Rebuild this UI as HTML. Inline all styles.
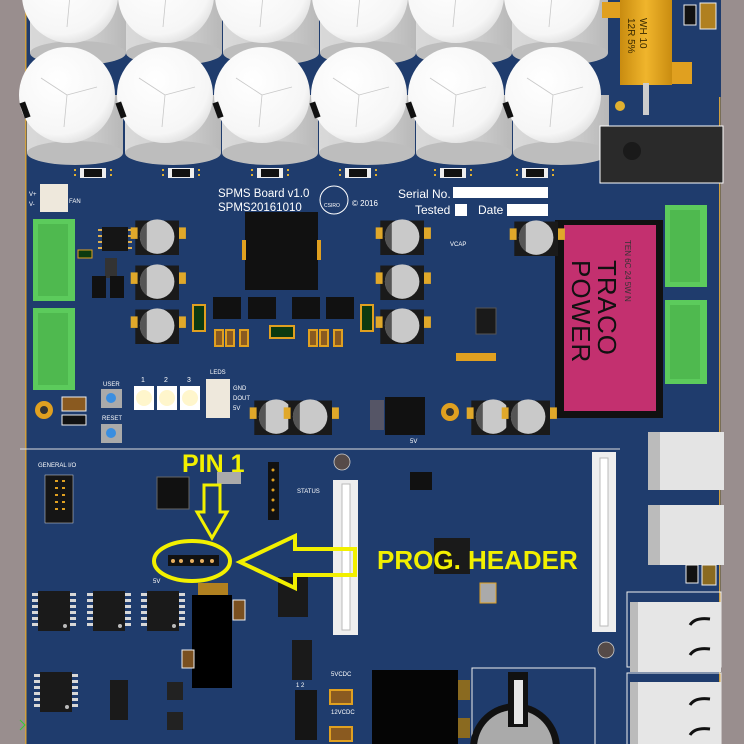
<!DOCTYPE html>
<html><head><meta charset="utf-8"><style>
html,body{margin:0;padding:0;background:#1f3c6d;width:744px;height:744px;overflow:hidden;}
svg{display:block}
text{font-family:"Liberation Sans",sans-serif;}
</style></head><body>
<svg width="744" height="744" viewBox="0 0 744 744" xmlns="http://www.w3.org/2000/svg">
<defs>
<radialGradient id="capTop" cx="0.4" cy="0.35" r="0.7"><stop offset="0" stop-color="#ffffff"/><stop offset="0.8" stop-color="#f6f6f6"/><stop offset="1" stop-color="#dedede"/></radialGradient>
<linearGradient id="capBody" x1="0" x2="1"><stop offset="0" stop-color="#d9d9d9"/><stop offset="0.6" stop-color="#cfcfcf"/><stop offset="1" stop-color="#b8b8b8"/></linearGradient>
<linearGradient id="gold" x1="0" x2="1"><stop offset="0" stop-color="#c98c10"/><stop offset="0.5" stop-color="#f0b52c"/><stop offset="1" stop-color="#c98c10"/></linearGradient>
<g id="cap">
 <rect x="-40" y="0" width="96" height="58" fill="url(#capBody)"/>
 <ellipse cx="8" cy="58" rx="48" ry="12" fill="#bdbdbd"/>
 <circle cx="0" cy="0" r="48" fill="url(#capTop)"/>
 <path d="M0 0 L-26 -17 M0 0 L30 -8 M0 0 L-3 32" stroke="#c8c8c8" stroke-width="0.8" fill="none"/>
</g>
<g id="ecap0">
 <rect x="-18" y="-10" width="38" height="30" fill="#1a1a1a"/>
 <rect x="-22" y="-4" width="6" height="10" fill="#e0a82a"/><rect x="20" y="-4" width="6" height="10" fill="#e0a82a"/>
 <circle cx="1" cy="4" r="15" fill="#c9c9c9"/><path d="M-14 4 a15 15 0 0 1 6 -12 l0 24 a15 15 0 0 1 -6 -12z" fill="#555"/>
</g>
<g id="ecap"><use href="#ecap0" transform="scale(1.15)"/></g>
<g id="so8"><rect x="0" y="0" width="26" height="24" fill="#151515"/>
 <g fill="#e0b050"><rect x="-4" y="2" width="4" height="2"/><rect x="-4" y="8" width="4" height="2"/><rect x="-4" y="14" width="4" height="2"/><rect x="-4" y="20" width="4" height="2"/>
 <rect x="26" y="2" width="4" height="2"/><rect x="26" y="8" width="4" height="2"/><rect x="26" y="14" width="4" height="2"/><rect x="26" y="20" width="4" height="2"/></g></g>
<g id="soic"><rect x="0" y="0" width="32" height="40" fill="#1a1a1a"/>
 <g fill="#d8d8d8"><rect x="-6" y="2" width="6" height="3"/><rect x="-6" y="8" width="6" height="3"/><rect x="-6" y="14" width="6" height="3"/><rect x="-6" y="20" width="6" height="3"/><rect x="-6" y="26" width="6" height="3"/><rect x="-6" y="32" width="6" height="3"/>
 <rect x="32" y="2" width="6" height="3"/><rect x="32" y="8" width="6" height="3"/><rect x="32" y="14" width="6" height="3"/><rect x="32" y="20" width="6" height="3"/><rect x="32" y="26" width="6" height="3"/><rect x="32" y="32" width="6" height="3"/></g>
 <circle cx="27" cy="35" r="2" fill="#bbb"/></g>
<g id="res"><rect x="0" y="0" width="26" height="10" fill="#eee"/><rect x="4" y="1" width="18" height="8" fill="#111"/><rect x="-6" y="1" width="2" height="2" fill="#e0b030"/><rect x="-6" y="6" width="2" height="2" fill="#e0b030"/><rect x="30" y="1" width="2" height="2" fill="#e0b030"/><rect x="30" y="6" width="2" height="2" fill="#e0b030"/></g>
</defs>

<rect x="0" y="0" width="744" height="744" fill="#1f3c6d"/>
<rect x="0" y="0" width="25" height="744" fill="#998e8e"/>
<rect x="25" y="0" width="1.5" height="744" fill="#d0a040"/>
<rect x="721" y="0" width="23" height="744" fill="#998e8e"/>
<rect x="719" y="97" width="1.5" height="647" fill="#d0a040"/>

<use href="#cap" x="70" y="-5"/><use href="#cap" x="166" y="-5"/><use href="#cap" x="263" y="-5"/><use href="#cap" x="360" y="-5"/><use href="#cap" x="456" y="-5"/><use href="#cap" x="552" y="-5"/>
<use href="#cap" x="67" y="95"/><use href="#cap" x="165" y="95"/><use href="#cap" x="262" y="95"/><use href="#cap" x="359" y="95"/><use href="#cap" x="456" y="95"/><use href="#cap" x="553" y="95"/>
<g fill="#111"><rect x="22" y="102" width="6" height="16" transform="rotate(-20 25 110)"/><rect x="118" y="102" width="6" height="16" transform="rotate(-20 121 110)"/><rect x="215" y="102" width="6" height="16" transform="rotate(-20 218 110)"/><rect x="312" y="102" width="6" height="16" transform="rotate(-20 315 110)"/><rect x="408" y="102" width="6" height="16" transform="rotate(-20 411 110)"/><rect x="505" y="102" width="6" height="16" transform="rotate(-20 508 110)"/></g>
<use href="#res" x="80" y="168"/><use href="#res" x="168" y="168"/><use href="#res" x="257" y="168"/><use href="#res" x="345" y="168"/><use href="#res" x="440" y="168"/><use href="#res" x="522" y="168"/>

<rect x="602" y="2" width="20" height="16" fill="#e0a020"/><rect x="672" y="62" width="20" height="22" fill="#e0a020"/>
<rect x="620" y="0" width="52" height="85" fill="url(#gold)"/>
<text transform="translate(640,18) rotate(90)" font-size="10" fill="#3a2a00">WH 10</text>
<text transform="translate(628,18) rotate(90)" font-size="10" fill="#3a2a00">12R 5%</text>
<rect x="643" y="83" width="6" height="32" fill="#ccc"/>
<circle cx="620" cy="106" r="5" fill="#e0b030"/>
<rect x="684" y="5" width="12" height="20" fill="#111" stroke="#eee"/><rect x="700" y="3" width="16" height="26" fill="#b08020" stroke="#eee"/>
<rect x="600" y="126" width="123" height="57" fill="#2a2a2a" stroke="#fff" stroke-width="1"/>
<circle cx="632" cy="151" r="9" fill="#1a1a1a"/>

<text x="218" y="197" font-size="11.5" fill="#fff">SPMS Board v1.0</text>
<text x="218" y="211" font-size="11.5" fill="#fff">SPMS20161010</text>
<circle cx="334" cy="200" r="14" fill="none" stroke="#fff" stroke-width="1"/>
<text x="324" y="207" font-size="5" fill="#fff">CSIRO</text>
<text x="352" y="206" font-size="8" fill="#fff">© 2016</text>
<text x="398" y="198" font-size="12" fill="#fff">Serial No.</text>
<rect x="453" y="187" width="95" height="11" fill="#fff"/>
<text x="415" y="214" font-size="12" fill="#fff">Tested</text>
<rect x="455" y="204" width="12" height="12" fill="#fff"/>
<text x="478" y="214" font-size="12" fill="#fff">Date</text>
<rect x="507" y="204" width="41" height="12" fill="#fff"/>

<rect x="40" y="184" width="28" height="28" fill="#eee8dc"/>
<text x="29" y="196" font-size="6" fill="#fff">V+</text><text x="29" y="206" font-size="6" fill="#fff">V-</text><text x="69" y="203" font-size="6" fill="#fff">FAN</text>
<rect x="33" y="219" width="42" height="82" fill="#5ccb5c"/><rect x="38" y="224" width="30" height="72" fill="#4fb94f"/>
<rect x="33" y="308" width="42" height="82" fill="#5ccb5c"/><rect x="38" y="313" width="30" height="72" fill="#4fb94f"/>
<rect x="78" y="250" width="14" height="8" fill="#0c3a10" stroke="#e0a020"/>
<rect x="665" y="205" width="42" height="82" fill="#5ccb5c"/><rect x="670" y="210" width="30" height="72" fill="#4fb94f"/>
<rect x="665" y="300" width="42" height="84" fill="#5ccb5c"/><rect x="670" y="305" width="30" height="74" fill="#4fb94f"/>

<rect x="555" y="220" width="108" height="198" fill="#111"/>
<rect x="564" y="225" width="92" height="186" fill="#c3306f"/>
<text transform="translate(598,260) rotate(90)" font-size="26" fill="#111" letter-spacing="1">TRACO</text>
<text transform="translate(572,260) rotate(90)" font-size="26" fill="#111" letter-spacing="1">POWER</text>
<text transform="translate(625,240) rotate(90)" font-size="8" fill="#333">TEN 6C 24 5W N</text>

<use href="#so8" x="102" y="227"/>
<rect x="105" y="258" width="12" height="20" fill="#333"/>
<rect x="92" y="276" width="14" height="22" fill="#111"/><rect x="110" y="276" width="14" height="22" fill="#111"/>
<use href="#ecap" x="156" y="232"/><use href="#ecap" x="156" y="277"/><use href="#ecap" x="156" y="321"/>
<use href="#ecap" x="401" y="232"/><use href="#ecap" x="401" y="277"/><use href="#ecap" x="401" y="321"/>
<use href="#ecap" x="535" y="233"/>
<text x="450" y="246" font-size="6" fill="#fff">VCAP</text>
<rect x="245" y="212" width="73" height="78" fill="#111"/>
<rect x="242" y="240" width="4" height="20" fill="#e0a020"/><rect x="317" y="240" width="4" height="20" fill="#e0a020"/>
<rect x="213" y="297" width="28" height="22" fill="#111"/><rect x="248" y="297" width="28" height="22" fill="#111"/><rect x="292" y="297" width="28" height="22" fill="#111"/><rect x="326" y="297" width="28" height="22" fill="#111"/>
<rect x="193" y="305" width="12" height="26" fill="#0c3a10" stroke="#e0a020" stroke-width="2"/><rect x="361" y="305" width="12" height="26" fill="#0c3a10" stroke="#e0a020" stroke-width="2"/>
<rect x="270" y="326" width="24" height="12" fill="#0c3a10" stroke="#e0a020" stroke-width="2"/>
<g fill="#8a5a20" stroke="#e0a020" stroke-width="2"><rect x="215" y="330" width="8" height="16"/><rect x="226" y="330" width="8" height="16"/><rect x="240" y="330" width="8" height="16"/><rect x="309" y="330" width="8" height="16"/><rect x="320" y="330" width="8" height="16"/><rect x="334" y="330" width="8" height="16"/></g>
<rect x="476" y="308" width="20" height="26" fill="#1a1a1a" stroke="#555"/>
<rect x="456" y="353" width="40" height="8" fill="#e0a020"/>
<circle cx="44" cy="410" r="9" fill="#e0a020"/><circle cx="44" cy="410" r="4" fill="#333"/>
<circle cx="450" cy="412" r="9" fill="#e0a020"/><circle cx="450" cy="412" r="4" fill="#333"/>
<rect x="62" y="397" width="24" height="14" fill="#8a5a20" stroke="#eee"/><rect x="62" y="415" width="24" height="10" fill="#111" stroke="#eee"/>
<text x="103" y="386" font-size="6" fill="#fff">USER</text>
<rect x="101" y="389" width="21" height="19" fill="#aaa"/><circle cx="111" cy="398" r="5" fill="#3a8ee0"/>
<text x="102" y="420" font-size="6" fill="#fff">RESET</text>
<rect x="101" y="424" width="21" height="19" fill="#aaa"/><circle cx="111" cy="433" r="5" fill="#3a8ee0"/>
<text x="141" y="382" font-size="7" fill="#fff">1</text><text x="164" y="382" font-size="7" fill="#fff">2</text><text x="187" y="382" font-size="7" fill="#fff">3</text>
<rect x="134" y="386" width="20" height="24" fill="#fff"/><circle cx="144" cy="398" r="8" fill="#fff6cc"/>
<rect x="157" y="386" width="20" height="24" fill="#fff"/><circle cx="167" cy="398" r="8" fill="#fff6cc"/>
<rect x="180" y="386" width="20" height="24" fill="#fff"/><circle cx="190" cy="398" r="8" fill="#fff6cc"/>
<text x="210" y="374" font-size="6" fill="#fff">LEDS</text>
<rect x="206" y="379" width="24" height="39" fill="#eee8dc"/>
<text x="233" y="390" font-size="6" fill="#fff">GND</text><text x="233" y="400" font-size="6" fill="#fff">DOUT</text><text x="233" y="410" font-size="6" fill="#fff">5V</text>
<use href="#ecap" x="275" y="412"/><use href="#ecap" x="309" y="412"/><use href="#ecap" x="492" y="412"/><use href="#ecap" x="527" y="412"/>
<rect x="385" y="397" width="40" height="38" fill="#111"/><rect x="370" y="400" width="14" height="30" fill="#556"/>
<text x="410" y="443" font-size="6" fill="#fff">5V</text>

<line x1="20" y1="449" x2="620" y2="449" stroke="#ddd" stroke-width="1"/>
<text x="38" y="467" font-size="6" fill="#fff">GENERAL I/O</text>
<rect x="45" y="475" width="28" height="48" fill="#151515" stroke="#ddd" stroke-width="0.5"/>
<g fill="#e0a020"><rect x="55" y="480" width="3" height="2"/><rect x="62" y="480" width="3" height="2"/><rect x="55" y="487" width="3" height="2"/><rect x="62" y="487" width="3" height="2"/><rect x="55" y="494" width="3" height="2"/><rect x="62" y="494" width="3" height="2"/><rect x="55" y="501" width="3" height="2"/><rect x="62" y="501" width="3" height="2"/><rect x="55" y="508" width="3" height="2"/><rect x="62" y="508" width="3" height="2"/></g>
<rect x="157" y="477" width="32" height="32" fill="#111" stroke="#666"/>
<rect x="217" y="472" width="24" height="12" fill="#aaa"/>
<rect x="268" y="462" width="11" height="58" fill="#111"/>
<g fill="#e0a020"><circle cx="273" cy="470" r="1.5"/><circle cx="273" cy="480" r="1.5"/><circle cx="273" cy="490" r="1.5"/><circle cx="273" cy="500" r="1.5"/><circle cx="273" cy="510" r="1.5"/></g>
<text x="297" y="493" font-size="6" fill="#fff">STATUS</text>
<circle cx="342" cy="462" r="8" fill="#554a48" stroke="#ccc" stroke-width="0.8"/>
<rect x="333" y="480" width="25" height="155" fill="#eee"/><rect x="342" y="484" width="8" height="146" fill="#fff" stroke="#bbb"/>
<rect x="592" y="452" width="24" height="180" fill="#eee"/><rect x="600" y="458" width="8" height="168" fill="#fff" stroke="#bbb"/>
<circle cx="606" cy="650" r="8" fill="#554a48" stroke="#ccc" stroke-width="0.8"/>
<rect x="410" y="472" width="22" height="18" fill="#111"/>
<rect x="434" y="538" width="36" height="36" fill="#1a1a1a"/>
<rect x="480" y="583" width="16" height="20" fill="#aaa" stroke="#e0a020"/>
<rect x="648" y="432" width="76" height="58" fill="#e4e4e4"/><rect x="648" y="432" width="12" height="58" fill="#bbb"/>
<rect x="648" y="505" width="76" height="60" fill="#e4e4e4"/><rect x="648" y="505" width="12" height="60" fill="#bbb"/>
<rect x="686" y="565" width="12" height="18" fill="#111" stroke="#eee"/><rect x="702" y="565" width="14" height="20" fill="#8a6a20" stroke="#eee"/>
<rect x="627" y="592" width="94" height="75" fill="none" stroke="#eee" stroke-width="1"/>
<rect x="630" y="602" width="91" height="70" fill="#e6e6e6"/><rect x="630" y="602" width="8" height="70" fill="#bbb"/>
<path d="M690 625 q5 -8 20 -6 M690 655 q5 -8 20 -6" stroke="#111" stroke-width="3" fill="none"/>
<path d="M627 744 L627 673 L721 673 L721 744" fill="none" stroke="#eee" stroke-width="1"/>
<rect x="630" y="682" width="91" height="62" fill="#e6e6e6"/><rect x="630" y="682" width="8" height="62" fill="#bbb"/>
<path d="M690 705 q5 -8 20 -6 M690 735 q5 -8 20 -6" stroke="#111" stroke-width="3" fill="none"/>
<path d="M472 744 L472 668 L595 668 L595 744" fill="none" stroke="#eee"/>
<path d="M470.2 744 A45 45 0 0 1 559.8 744 Z" fill="#111"/>
<path d="M477.2 744 A38 38 0 0 1 552.8 744 Z" fill="#aaa"/>
<rect x="508" y="672" width="20" height="55" fill="#111"/><rect x="514" y="680" width="9" height="44" fill="#e6e6e6"/>
<rect x="372" y="670" width="86" height="74" fill="#050505"/>
<rect x="458" y="680" width="12" height="20" fill="#8a6a20"/><rect x="458" y="718" width="12" height="20" fill="#8a6a20"/>
<use href="#soic" x="38" y="591"/><use href="#soic" x="93" y="591"/><use href="#soic" x="147" y="591"/>
<rect x="198" y="583" width="30" height="14" fill="#b08020"/>
<rect x="192" y="595" width="40" height="93" fill="#000"/>
<rect x="233" y="600" width="12" height="20" fill="#7a5020" stroke="#eee"/>
<rect x="182" y="650" width="12" height="18" fill="#7a5020" stroke="#eee"/>
<use href="#soic" x="40" y="672"/>
<rect x="110" y="680" width="18" height="40" fill="#1a1a1a"/>
<rect x="167" y="682" width="16" height="18" fill="#222"/><rect x="167" y="712" width="16" height="18" fill="#222"/>
<rect x="278" y="577" width="30" height="40" fill="#1a1a1a"/>
<rect x="292" y="640" width="20" height="40" fill="#1a1a1a"/>
<rect x="295" y="690" width="22" height="50" fill="#151515"/>
<text x="296" y="687" font-size="6" fill="#fff">1 2</text>
<text x="331" y="676" font-size="6" fill="#fff">5VCDC</text>
<text x="331" y="714" font-size="6" fill="#fff">12VCDC</text>
<rect x="330" y="690" width="22" height="14" fill="#8a5a20" stroke="#e0a020" stroke-width="2"/>
<rect x="330" y="727" width="22" height="14" fill="#8a5a20" stroke="#e0a020" stroke-width="2"/>
<path d="M20 720 l5 5 l-5 5" stroke="#3c3" fill="none"/>

<rect x="168" y="555" width="51" height="11" fill="#111"/>
<g fill="#e8b060"><circle cx="173" cy="561" r="2"/><circle cx="181" cy="561" r="2"/><circle cx="192" cy="561" r="2"/><circle cx="202" cy="561" r="2"/><circle cx="212" cy="561" r="2"/></g>
<text x="153" y="583" font-size="6" fill="#fff">5V</text>

<text x="182" y="472" font-size="25" font-weight="bold" fill="#f2f000">PIN 1</text>
<path d="M204 485 L220 485 L220 512 L227 512 L212 538 L197 512 L204 512 Z" fill="none" stroke="#f2f000" stroke-width="3" stroke-linejoin="miter"/>
<ellipse cx="192" cy="561" rx="38" ry="20" fill="none" stroke="#f2f000" stroke-width="4"/>
<path d="M240 562 L295 536 L295 549 L355 549 L355 575 L295 575 L295 588 Z" fill="none" stroke="#f2f000" stroke-width="4" stroke-linejoin="miter"/>
<text x="377" y="569" font-size="26" font-weight="bold" fill="#f2f000">PROG. HEADER</text>
</svg>
</body></html>
